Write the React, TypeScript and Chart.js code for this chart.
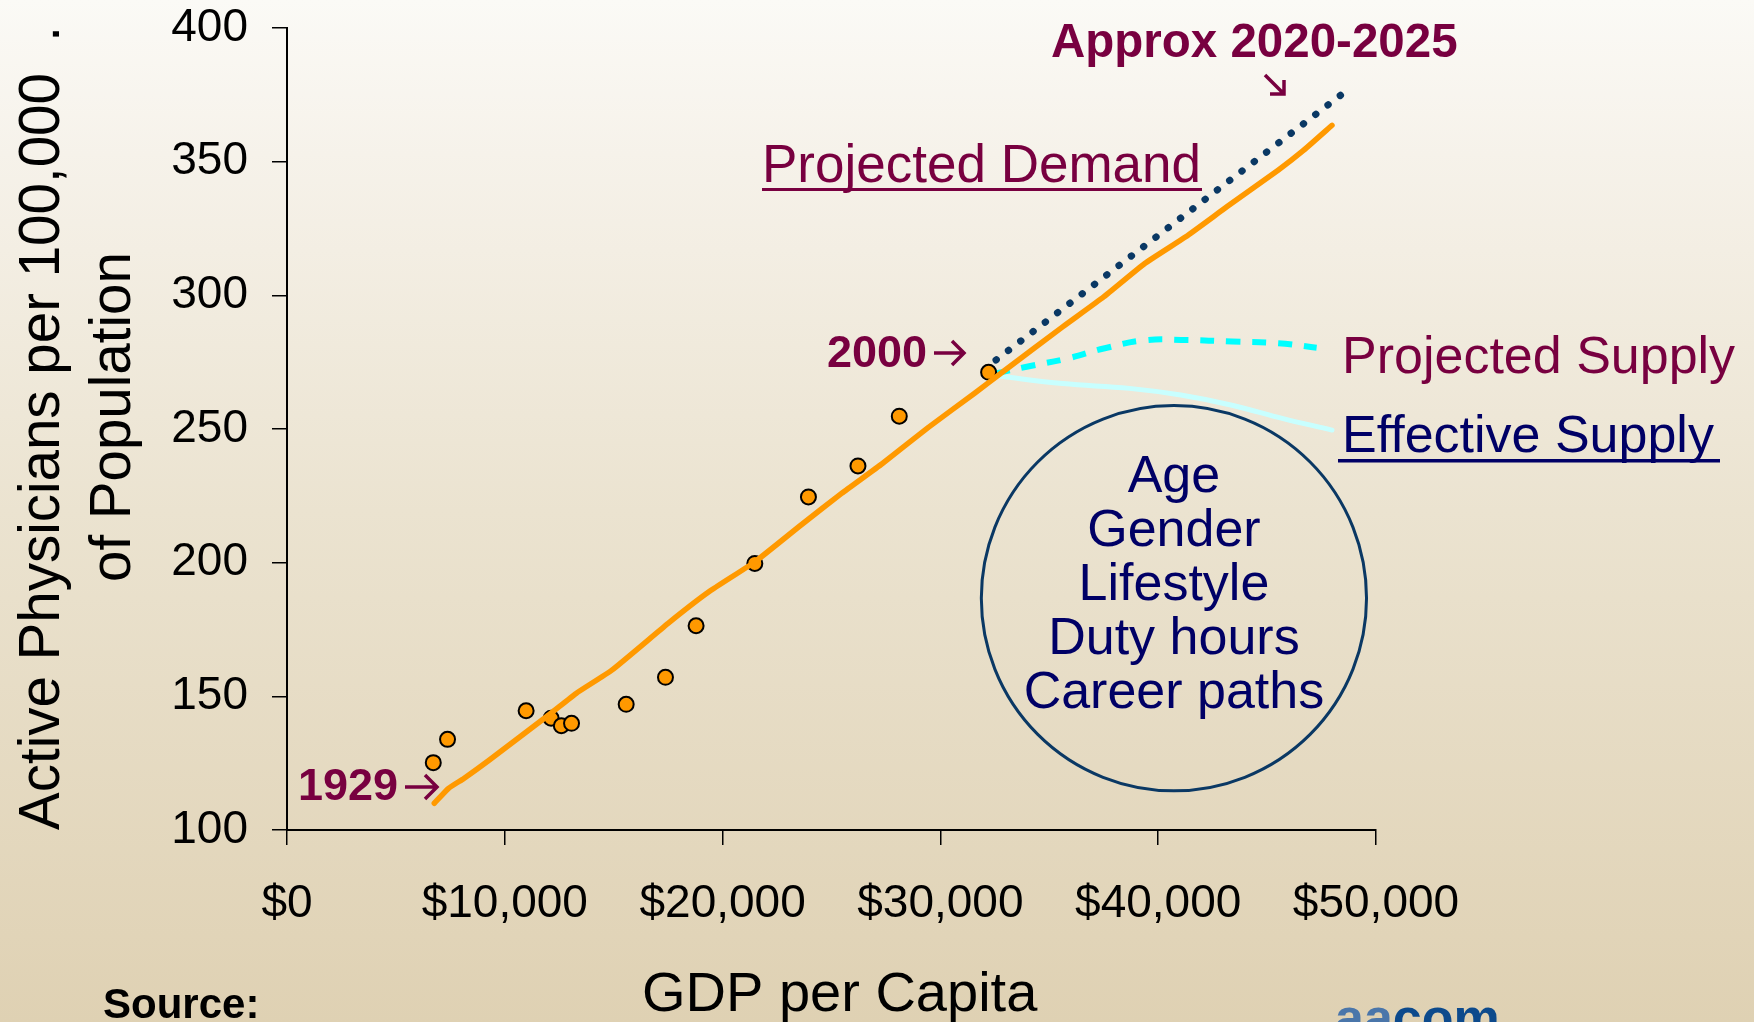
import React, { useEffect, useRef } from "react";
import { Chart, registerables } from "chart.js";

Chart.register(...registerables);

// ---- Data ----
const observedGdp = [6716, 7371, 10979, 12127, 12596, 13064, 15573, 17377, 18783, 21479, 23941, 26215, 28112, 32214];
const observedPhysicians = [125.2, 133.9, 144.6, 141.8, 139.0, 139.9, 147.0, 157.1, 176.4, 199.7, 224.6, 236.2, 254.8, 271.2];

const trendGdp = [6762, 7418, 8121, 9292, 12104, 13275, 14915, 17497, 19371, 21479, 23588, 25462, 27339, 29448, 31556, 32962, 35612, 37496, 39381, 41265, 43150, 45505, 46683, 47979];
const trendPhysicians = [110.0, 115.6, 119.3, 126.2, 143.6, 151.1, 159.8, 177.3, 189.1, 200.3, 214.0, 225.9, 237.1, 250.6, 263.3, 272.0, 288.2, 299.4, 311.9, 321.9, 333.1, 346.8, 354.3, 363.6];

const demandGdp = [32553, 48400];
const demandPhysicians = [275.8, 375.0];

const projSupplyGdp = [32553, 33964, 35851, 37496, 39381, 41265, 43384, 45505, 47274];
const projSupplyPhysicians = [270.8, 273.3, 276.4, 280.1, 283.2, 283.3, 282.7, 282.1, 280.4];

const effSupplyGdp = [32668, 35612, 38680, 41035, 43384, 45737, 47979];
const effSupplyPhysicians = [269.8, 267.0, 265.2, 262.7, 258.9, 253.9, 249.6];

const xTickValues = [0, 10000, 20000, 30000, 40000, 50000];
const yTickValues = [100, 150, 200, 250, 300, 350, 400];

const factorLabels = ["Age", "Gender", "Lifestyle", "Duty hours", "Career paths"];

const yTitleLines = ["Active Physicians per 100,000  .", "of Population"];
const xTitle = "GDP per Capita";

// annotation circle (in data units)
const CIRCLE_CENTER_GDP = 40722;
const CIRCLE_CENTER_PHYS = 186.7;
const CIRCLE_RADIUS_GDP = 8843;

const FONT = '"Liberation Sans", Arial, Helvetica, sans-serif';
const MAROON = "#780040";
const NAVY_TEXT = "#000066";
const NAVY_LINE = "#0a3864";

const toPoints = (xs: number[], ys: number[]) => xs.map((x, i) => ({ x, y: ys[i] }));

function arrowRight(ctx: CanvasRenderingContext2D, x0: number, x1: number, y: number, h: number) {
  ctx.beginPath();
  ctx.moveTo(x0, y);
  ctx.lineTo(x1, y);
  ctx.moveTo(x1 - h, y - h);
  ctx.lineTo(x1, y);
  ctx.lineTo(x1 - h, y + h);
  ctx.stroke();
}

const annotationPlugin = {
  id: "annotations",
  afterDraw(chart: any) {
    const ctx: CanvasRenderingContext2D = chart.ctx;
    const xs = chart.scales.x;
    const ys = chart.scales.y;
    ctx.save();

    // Circle with factors
    const cx = xs.getPixelForValue(CIRCLE_CENTER_GDP);
    const cy = ys.getPixelForValue(CIRCLE_CENTER_PHYS);
    const r = xs.getPixelForValue(CIRCLE_CENTER_GDP + CIRCLE_RADIUS_GDP) - cx;
    ctx.beginPath();
    ctx.arc(cx, cy, r, 0, Math.PI * 2);
    ctx.strokeStyle = NAVY_LINE;
    ctx.lineWidth = 3;
    ctx.stroke();

    ctx.fillStyle = NAVY_TEXT;
    ctx.font = `52px ${FONT}`;
    ctx.textAlign = "center";
    ctx.textBaseline = "alphabetic";
    factorLabels.forEach((t, i) => {
      ctx.fillText(t, cx, cy + (i - 2) * 54 + 2);
    });

    // Maroon labels
    ctx.fillStyle = MAROON;
    ctx.strokeStyle = MAROON;
    ctx.textAlign = "left";
    ctx.font = `bold 47.5px ${FONT}`;
    ctx.fillText("Approx 2020-2025", 1051, 57);

    // diagonal arrow
    ctx.lineWidth = 3.5;
    ctx.lineCap = "butt";
    ctx.beginPath();
    ctx.moveTo(1265, 75);
    ctx.lineTo(1284, 94);
    ctx.moveTo(1284, 80);
    ctx.lineTo(1284, 94);
    ctx.lineTo(1270, 94);
    ctx.stroke();

    ctx.font = `bold 45px ${FONT}`;
    ctx.fillText("2000", 827, 367);
    ctx.fillText("1929", 298, 800);
    ctx.lineWidth = 3.5;
    arrowRight(ctx, 934, 964, 353, 12);
    arrowRight(ctx, 405, 437, 787, 12);

    ctx.font = `53px ${FONT}`;
    ctx.fillText("Projected Demand", 762, 182);
    ctx.fillRect(762, 188, 440, 3);

    ctx.font = `52px ${FONT}`;
    ctx.fillText("Projected Supply", 1342, 373);

    ctx.fillStyle = NAVY_TEXT;
    ctx.fillText("Effective Supply", 1342, 452);
    ctx.fillRect(1338, 459, 382, 3.5);

    // Axis titles
    ctx.fillStyle = "#000";
    ctx.font = `56.5px ${FONT}`;
    ctx.save();
    ctx.translate(59, 830);
    ctx.rotate(-Math.PI / 2);
    ctx.fillText(yTitleLines[0], 0, 0);
    ctx.restore();
    ctx.save();
    ctx.translate(130, 582);
    ctx.rotate(-Math.PI / 2);
    ctx.fillText(yTitleLines[1], 0, 0);
    ctx.restore();

    ctx.font = `56px ${FONT}`;
    ctx.fillText(xTitle, 642, 1011);

    // Footer
    ctx.font = `bold 42px ${FONT}`;
    ctx.fillText("Source:", 103, 1018);

    ctx.font = `bold 52px ${FONT}`;
    ctx.fillStyle = "#4a76aa";
    ctx.fillText("aa", 1335, 1035);
    const w = ctx.measureText("aa").width;
    ctx.fillStyle = "#0d4a8c";
    ctx.fillText("com", 1335 + w, 1035);

    ctx.restore();
  },
};

export default function App() {
  const canvasRef = useRef<HTMLCanvasElement | null>(null);

  useEffect(() => {
    document.body.style.margin = "0";
    const canvas = canvasRef.current;
    if (!canvas) return;

    const tickFont = { family: FONT, size: 46 };

    const chart = new Chart(canvas, {
      type: "scatter",
      data: {
        datasets: [
          {
            label: "Projected Demand",
            data: toPoints(demandGdp, demandPhysicians),
            showLine: true,
            borderColor: NAVY_LINE,
            borderWidth: 7,
            borderDash: [0.5, 15],
            borderCapStyle: "round",
            pointRadius: 0,
            order: 0,
          },
          {
            label: "Trend",
            data: toPoints(trendGdp, trendPhysicians),
            showLine: true,
            borderColor: "#ff9900",
            borderWidth: 5.5,
            borderCapStyle: "round",
            borderJoinStyle: "round",
            pointRadius: 0,
            tension: 0.15,
            order: 1,
          },
          {
            label: "Observed",
            data: toPoints(observedGdp, observedPhysicians),
            showLine: false,
            pointRadius: 7.5,
            pointBackgroundColor: "#ff9900",
            pointBorderColor: "#000",
            pointBorderWidth: 2,
            order: 2,
          },
          {
            label: "Projected Supply",
            data: toPoints(projSupplyGdp, projSupplyPhysicians),
            showLine: true,
            borderColor: "#00ffff",
            borderWidth: 6,
            borderDash: [14, 12],
            borderCapStyle: "butt",
            pointRadius: 0,
            tension: 0.4,
            order: 3,
          },
          {
            label: "Effective Supply",
            data: toPoints(effSupplyGdp, effSupplyPhysicians),
            showLine: true,
            borderColor: "#c8ffff",
            borderWidth: 5,
            borderCapStyle: "round",
            pointRadius: 0,
            tension: 0.4,
            order: 4,
          },
        ],
      },
      options: {
        responsive: false,
        maintainAspectRatio: false,
        animation: false,
        devicePixelRatio: 1,
        layout: { padding: { top: 28, right: 378, left: 0, bottom: 0 } },
        plugins: {
          legend: { display: false },
          tooltip: { enabled: false },
        },
        scales: {
          x: {
            type: "linear",
            min: 0,
            max: 50000,
            afterBuildTicks: (s: any) => {
              s.ticks = xTickValues.map((v) => ({ value: v }));
            },
            afterFit: (s: any) => {
              s.height = 192;
              s.paddingLeft = 0;
              s.paddingRight = 0;
            },
            ticks: {
              font: tickFont,
              color: "#000",
              padding: 32,
              maxRotation: 0,
              autoSkip: false,
              callback: (v: any) => "$" + Number(v).toLocaleString("en-US"),
            },
            grid: {
              drawOnChartArea: false,
              drawTicks: true,
              tickLength: 15,
              color: "#000",
              lineWidth: 1.5,
            },
            border: { color: "#000", width: 2 },
          },
          y: {
            type: "linear",
            min: 100,
            max: 400,
            afterBuildTicks: (s: any) => {
              s.ticks = yTickValues.map((v) => ({ value: v }));
            },
            afterFit: (s: any) => {
              s.width = 287;
              s.paddingTop = 0;
              s.paddingBottom = 0;
            },
            ticks: {
              font: tickFont,
              color: "#000",
              padding: 24,
              autoSkip: false,
            },
            grid: {
              drawOnChartArea: false,
              drawTicks: true,
              tickLength: 15,
              color: "#000",
              lineWidth: 1.5,
            },
            border: { color: "#000", width: 2 },
          },
        },
      },
      plugins: [annotationPlugin],
    } as any);

    return () => chart.destroy();
  }, []);

  return (
    <div
      style={{
        width: 1754,
        height: 1022,
        overflow: "hidden",
        background:
          "linear-gradient(to bottom, #fbfaf6 0%, #f6f2ea 15%, #ebe3d0 50%, #dfd1b3 100%)",
      }}
    >
      <canvas ref={canvasRef} width={1754} height={1022} style={{ display: "block" }} />
    </div>
  );
}
